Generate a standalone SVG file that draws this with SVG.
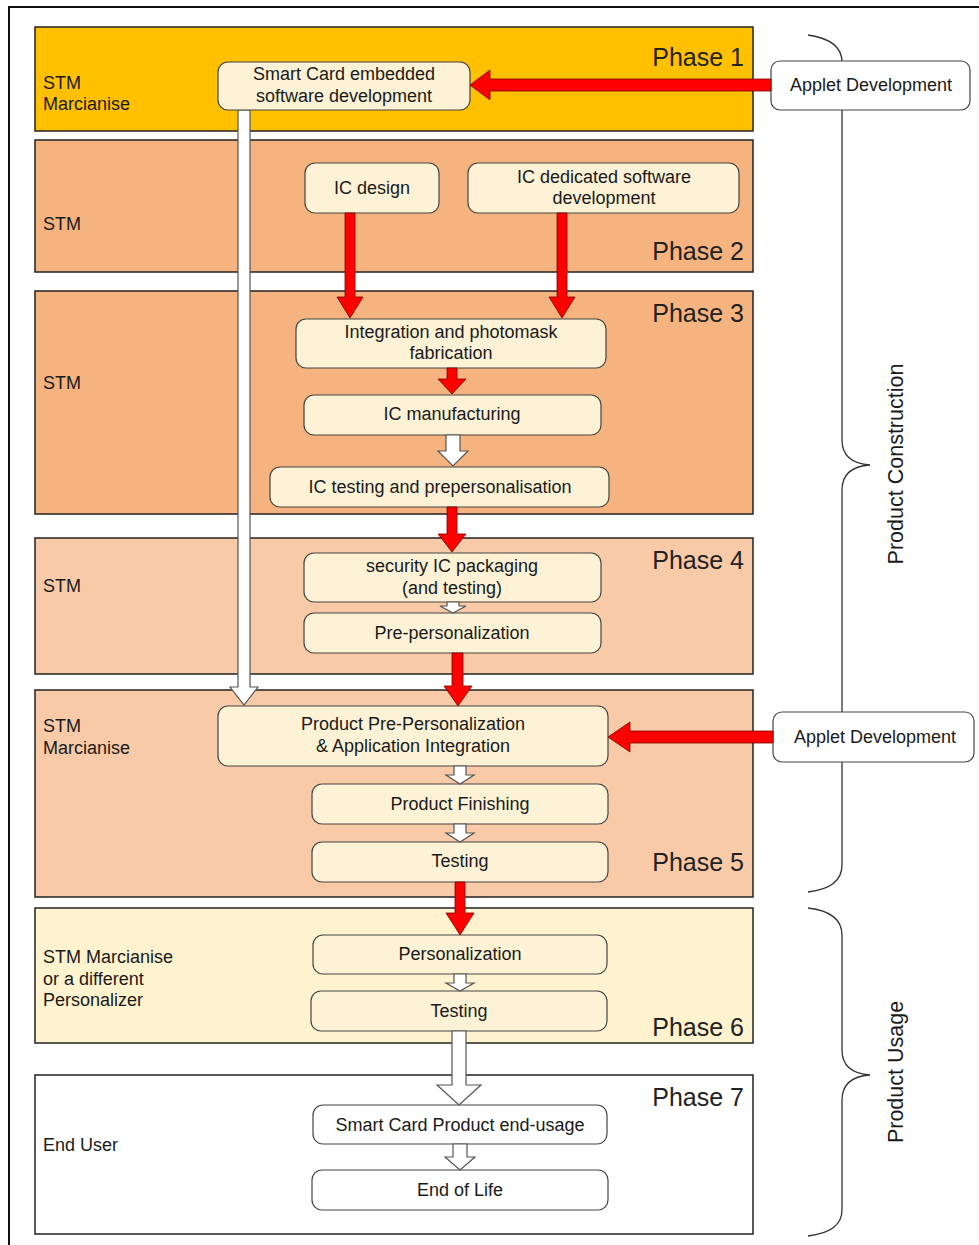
<svg xmlns="http://www.w3.org/2000/svg" width="979" height="1245" viewBox="0 0 979 1245">
<style>
text{font-family:"Liberation Sans",Arial,sans-serif;fill:#1a1a1a}
.ph{stroke:#222;stroke-width:1.5}
.lbl{font-size:18px}
.pn{font-size:25px;text-anchor:end;fill:#222}
.nd rect{fill:#FDF2D5;stroke:#444;stroke-width:1.2}
.nw rect{fill:#fff;stroke:#444;stroke-width:1.2}
.nd text,.nw text{font-size:18px;text-anchor:middle}
.red{fill:#FF0000;stroke:#7a0000;stroke-width:0.8}
.wht{fill:#fff;stroke:#555;stroke-width:1.2}
.brace{fill:none;stroke:#333;stroke-width:1.3}
.rot{font-size:21.5px;text-anchor:middle}
</style>
<rect width="979" height="1245" fill="#fff"/>
<path d="M9,1245 V7 H979" fill="none" stroke="#111" stroke-width="2"/>
<g id="phases">
<rect class="ph" x="35" y="27" width="718" height="104" fill="#FFC000"/>
<rect class="ph" x="35" y="140" width="718" height="132" fill="#F5B47F"/>
<rect class="ph" x="35" y="291" width="718" height="223" fill="#F5B47F"/>
<rect class="ph" x="35" y="538" width="718" height="136" fill="#F9CAA7"/>
<rect class="ph" x="35" y="690" width="718" height="207" fill="#F9CAA7"/>
<rect class="ph" x="35" y="908" width="718" height="135" fill="#FFF2CE"/>
<rect class="ph" x="35" y="1075" width="718" height="159" fill="#fff"/>
<text class="lbl" x="43" y="89">STM</text>
<text class="lbl" x="43" y="110">Marcianise</text>
<text class="lbl" x="43" y="230">STM</text>
<text class="lbl" x="43" y="389">STM</text>
<text class="lbl" x="43" y="592">STM</text>
<text class="lbl" x="43" y="732">STM</text>
<text class="lbl" x="43" y="754">Marcianise</text>
<text class="lbl" x="43" y="963">STM Marcianise</text>
<text class="lbl" x="43" y="985">or a different</text>
<text class="lbl" x="43" y="1006">Personalizer</text>
<text class="lbl" x="43" y="1151">End User</text>
<text class="pn" x="744" y="66">Phase 1</text>
<text class="pn" x="744" y="260">Phase 2</text>
<text class="pn" x="744" y="322">Phase 3</text>
<text class="pn" x="744" y="569">Phase 4</text>
<text class="pn" x="744" y="871">Phase 5</text>
<text class="pn" x="744" y="1036">Phase 6</text>
<text class="pn" x="744" y="1106">Phase 7</text>
</g>
<g id="braces">
<path class="brace" d="M808,35 Q842,40 842,62 V440 Q842,463 870,465 Q842,467 842,490 V865 Q842,888 808,892"/>
<path class="brace" d="M808,908 Q842,912 842,935 V1050 Q842,1073 870,1075 Q842,1077 842,1100 V1210 Q842,1232 808,1236"/>
<text class="rot" transform="translate(903,464) rotate(-90)">Product Construction</text>
<text class="rot" transform="translate(903,1072) rotate(-90)">Product Usage</text>
</g>
<g id="connectors">
<polygon class="wht" points="238,110 250,110 250,687 258,687 244,705 230,687 238,687"/>
</g>
<g id="n-smartcard" class="nd"><rect x="218" y="62" width="252" height="48" rx="10"/><text x="344" y="80">Smart Card embedded</text><text x="344" y="102">software development</text></g>
<g id="n-applet1" class="nw"><rect x="771" y="61" width="199" height="49" rx="9"/><text x="871" y="91">Applet Development</text></g>
<g id="n-icdesign" class="nd"><rect x="305" y="163" width="134" height="50" rx="10"/><text x="372" y="194">IC design</text></g>
<g id="n-icsoft" class="nd"><rect x="468" y="163" width="271" height="50" rx="10"/><text x="604" y="183">IC dedicated software</text><text x="604" y="204">development</text></g>
<g id="n-integration" class="nd"><rect x="296" y="319" width="310" height="49" rx="10"/><text x="451" y="338">Integration and photomask</text><text x="451" y="359">fabrication</text></g>
<g id="n-icmanuf" class="nd"><rect x="304" y="395" width="297" height="40" rx="10"/><text x="452" y="420">IC manufacturing</text></g>
<g id="n-ictest" class="nd"><rect x="270" y="467" width="339" height="40" rx="10"/><text x="440" y="493">IC testing and prepersonalisation</text></g>
<g id="n-packaging" class="nd"><rect x="304" y="553" width="297" height="49" rx="10"/><text x="452" y="572">security IC packaging</text><text x="452" y="594">(and testing)</text></g>
<g id="n-prepers" class="nd"><rect x="304" y="613" width="297" height="40" rx="10"/><text x="452" y="639">Pre-personalization</text></g>
<g id="n-productprepers" class="nd"><rect x="218" y="706" width="390" height="60" rx="10"/><text x="413" y="730">Product Pre-Personalization</text><text x="413" y="752">&amp; Application Integration</text></g>
<g id="n-applet2" class="nw"><rect x="773" y="712" width="201" height="50" rx="9"/><text x="875" y="743">Applet Development</text></g>
<g id="n-finishing" class="nd"><rect x="312" y="784" width="296" height="40" rx="10"/><text x="460" y="810">Product Finishing</text></g>
<g id="n-testing5" class="nd"><rect x="312" y="842" width="296" height="40" rx="10"/><text x="460" y="867">Testing</text></g>
<g id="n-personalization" class="nd"><rect x="313" y="935" width="294" height="39" rx="10"/><text x="460" y="960">Personalization</text></g>
<g id="n-testing6" class="nd"><rect x="311" y="991" width="296" height="40" rx="10"/><text x="459" y="1017">Testing</text></g>
<g id="n-enduse" class="nw"><rect x="313" y="1105" width="294" height="39" rx="10"/><text x="460" y="1131">Smart Card Product end-usage</text></g>
<g id="n-eol" class="nw"><rect x="312" y="1170" width="296" height="40" rx="10"/><text x="460" y="1196">End of Life</text></g>
<g id="connectors2">
<polygon class="red" points="771,79 490,79 490,70 470,85 490,100 490,91 771,91"/>
<polygon class="red" points="345,213 355,213 355,297 363,297 350,318 337,297 345,297"/>
<polygon class="red" points="557,213 567,213 567,297 575,297 562,318 549,297 557,297"/>
<polygon class="red" points="447,368 457,368 457,379 466,379 452,394 438,379 447,379"/>
<polygon class="wht" points="446,435 460,435 460,451 468,451 453,466 438,451 446,451"/>
<polygon class="red" points="447,507 457,507 457,534 466,534 452,552 438,534 447,534"/>
<polygon class="wht" points="447,602 459,602 459,606 466,606 453,613 440,606 447,606"/>
<polygon class="red" points="452,653 463,653 463,686 472,686 458,706 444,686 452,686"/>
<polygon class="red" points="773,731 630,731 630,722 608,737 630,752 630,743 773,743"/>
<polygon class="wht" points="454,766 466,766 466,775 474,775 460,784 446,775 454,775"/>
<polygon class="wht" points="454,824 466,824 466,833 474,833 460,842 446,833 454,833"/>
<polygon class="red" points="455,882 465,882 465,913 474,913 460,935 446,913 455,913"/>
<polygon class="wht" points="454,974 466,974 466,983 474,983 460,991 446,983 454,983"/>
<polygon class="wht" points="452,1031 466,1031 466,1085 481,1085 459,1105 437,1085 452,1085"/>
<polygon class="wht" points="453,1144 467,1144 467,1157 475,1157 460,1170 445,1157 453,1157"/>
</g>
</svg>
